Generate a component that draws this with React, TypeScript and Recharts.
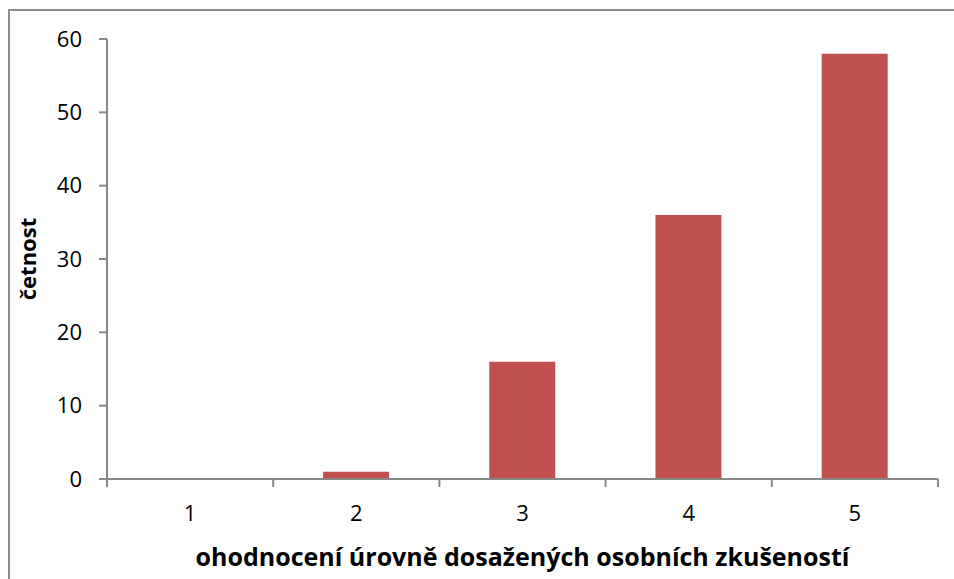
import React from "react";
import { BarChart, Bar, XAxis, YAxis, Label } from "recharts";

const categories = ["1", "2", "3", "4", "5"];
const counts = [0, 1, 16, 36, 58];
const yTicks = [0, 10, 20, 30, 40, 50, 60];
const xTitle = "ohodnocení úrovně dosažených osobních zkušeností";
const yTitle = "četnost";

const data = categories.map((c, i) => ({ name: c, value: counts[i] }));

const W = 954;
const H = 579;
const X_AXIS_H = 30;
const M = { top: 39, right: 16, bottom: 100 - X_AXIS_H, left: 0 };
const Y_AXIS_W = 107;
const FONT = "'Open Sans', 'Noto Sans', sans-serif";
const AXIS = "#888888";

const XTick = (props: any) => {
  const { x, y, payload, index } = props;
  const plotW = W - M.left - M.right - Y_AXIS_W;
  const bw = plotW / categories.length;
  const ly = y - 8;
  return (
    <g>
      <line x1={x - bw / 2} x2={x - bw / 2} y1={ly} y2={ly + 8} stroke={AXIS} strokeWidth={2} />
      {index === categories.length - 1 && (
        <line x1={x + bw / 2} x2={x + bw / 2} y1={ly} y2={ly + 8} stroke={AXIS} strokeWidth={2} />
      )}
      <text x={x} y={ly + 42} textAnchor="middle" fontFamily={FONT} fontSize={22} fill="#000">
        {payload.value}
      </text>
    </g>
  );
};

export default function App() {
  return (
    <div style={{ position: "absolute", left: 0, top: 0, width: W, height: H, overflow: "hidden", background: "#fff" }}>
      <div
        style={{
          position: "absolute",
          left: 8,
          top: 9,
          width: 980,
          height: 620,
          border: "2px solid #8c8c8c",
          boxSizing: "border-box",
        }}
      />
      <div style={{ position: "absolute", left: 0, top: 0 }}>
        <BarChart width={W} height={H} data={data} margin={M} barCategoryGap="30%">
          <XAxis
            dataKey="name"
            height={X_AXIS_H}
            stroke={AXIS}
            strokeWidth={2}
            tickLine={false}
            tickSize={0}
            tickMargin={8}
            tick={<XTick />}
            interval={0}
          >
            <Label
              value={xTitle}
              position="bottom"
              offset={39}
              style={{ fontFamily: FONT, fontSize: 25, fontWeight: 700, fill: "#000" }}
            />
          </XAxis>
          <YAxis
            width={Y_AXIS_W}
            domain={[0, 60]}
            ticks={yTicks}
            interval={0}
            stroke={AXIS}
            strokeWidth={2}
            tickSize={8}
            tickMargin={17}
            tickLine={{ stroke: AXIS, strokeWidth: 2 }}
            tick={{ fontFamily: FONT, fontSize: 22, fill: "#000" }}
          >
            <Label
              value={yTitle}
              angle={-90}
              position="insideLeft"
              offset={28}
              style={{ fontFamily: FONT, fontSize: 22, fontWeight: 700, fill: "#000", textAnchor: "middle" }}
            />
          </YAxis>
          <Bar dataKey="value" fill="#C0504D" isAnimationActive={false} />
        </BarChart>
      </div>
    </div>
  );
}
